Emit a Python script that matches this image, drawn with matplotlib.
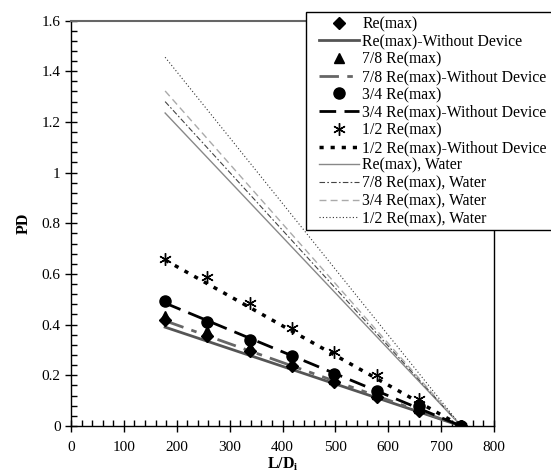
import matplotlib
matplotlib.use("Agg")
import matplotlib.pyplot as plt
from matplotlib.patches import Rectangle
from matplotlib.ticker import MultipleLocator

plt.rcParams['font.family'] = ['Liberation Serif', 'DejaVu Serif']
plt.rcParams['mathtext.fontset'] = 'stix'

# L/Di positions of the measured points
ld = [178, 258, 338, 418, 498, 578, 658, 738]
pd_re = [0.42, 0.355, 0.295, 0.235, 0.175, 0.115, 0.06, 0.0]
pd_78 = [0.435, 0.375, 0.31, 0.25, 0.185, 0.125, 0.07, 0.0]
pd_34 = [0.495, 0.41, 0.34, 0.275, 0.205, 0.14, 0.08, 0.0]
pd_12 = [0.66, 0.588, 0.487, 0.385, 0.293, 0.2, 0.108, 0.0]

# straight reference lines (start, end)
ld_line = [178, 738]
wo_re = [0.39, 0.0]
wo_78 = [0.415, 0.0]
wo_34 = [0.485, 0.0]
wo_12 = [0.655, 0.0]
water_re = [1.235, 0.0]
water_78 = [1.28, 0.0]
water_34 = [1.322, 0.0]
water_12 = [1.455, 0.0]

xticks = [0, 100, 200, 300, 400, 500, 600, 700, 800]
yticks = [0, 0.2, 0.4, 0.6, 0.8, 1.0, 1.2, 1.4, 1.6]
ytick_labels = ['0', '0.2', '0.4', '0.6', '0.8', '1', '1.2', '1.4', '1.6']

W, H = 551, 474
fig = plt.figure(figsize=(5.51, 4.74), dpi=100)
ax = fig.add_axes([71 / W, 1 - 426 / H, (494 - 71) / W, (426 - 20.5) / H])

ms = 7
ax.plot(ld, pd_re, linestyle='none', marker='D', color='black', markersize=6, zorder=4, label='Re(max)')
ax.plot(ld_line, wo_re, color='#555555', lw=2, label='Re(max)-Without Device')
ax.plot(ld, pd_78, linestyle='none', marker='^', color='black', markersize=ms, zorder=4, label='7/8 Re(max)')
ax.plot(ld_line, wo_78, color='#666666', lw=2, dashes=[7, 3, 2, 3, 2, 3], label='7/8 Re(max)-Without Device')
ax.plot(ld, pd_34, linestyle='none', marker='o', color='black', markersize=ms + 1, zorder=4, label='3/4 Re(max)')
ax.plot(ld_line, wo_34, color='black', lw=2, dashes=[6, 3], label='3/4 Re(max)-Without Device')
ax.plot(ld, pd_12, linestyle='none', marker=(6, 2, 0), color='black', markersize=9, mew=1,
        zorder=4, label='1/2 Re(max)')
ax.plot(ld_line, wo_12, color='black', lw=2.5, dashes=[1.2, 2], label='1/2 Re(max)-Without Device')
ax.plot(ld_line, water_re, color='#888888', lw=1, label='Re(max), Water')
ax.plot(ld_line, water_78, color='#444444', lw=0.8, dashes=[5, 2, 1.5, 2], label='7/8 Re(max), Water')
ax.plot(ld_line, water_34, color='#aaaaaa', lw=1, dashes=[5, 3], label='3/4 Re(max), Water')
ax.plot(ld_line, water_12, color='#333333', lw=0.8, dashes=[1, 2], label='1/2 Re(max), Water')

ax.set_xlim(0, 800)
ax.set_ylim(0, 1.6)
ax.set_xticks(xticks)
ax.set_yticks(yticks)
ax.set_yticklabels(ytick_labels)
ax.xaxis.set_minor_locator(MultipleLocator(20))
ax.yaxis.set_minor_locator(MultipleLocator(0.04))
ax.tick_params(which='major', direction='inout', length=9, width=1, labelsize=11, color='black', pad=3)
ax.tick_params(axis='x', which='major', pad=6)
ax.tick_params(which='minor', direction='in', length=4, width=1)
ax.tick_params(top=False, right=False, which='both')

for s in ['left', 'bottom', 'right']:
    ax.spines[s].set_color('black')
    ax.spines[s].set_linewidth(1)
ax.spines['top'].set_color('#666666')
ax.spines['top'].set_linewidth(1.5)

ax.set_ylabel('PD', fontweight='bold', fontsize=11.5, labelpad=7)
ax.set_xlabel(r'L/D$_{\mathbf{i}}$', fontweight='bold', fontsize=11.5, labelpad=2)

# legend box drawn by hand so the handles can sit further in from the border
box = Rectangle((306 / W, 1 - 230 / H), (W + 5 - 306) / W, (230 - 11.5) / H,
                transform=fig.transFigure, facecolor='white', edgecolor='black',
                lw=1, zorder=4.9, clip_on=False)
ax.add_patch(box)
leg = ax.legend(loc='upper left', bbox_to_anchor=(319 / W, 1 - 16 / H),
                bbox_transform=fig.transFigure, fontsize=11.3, frameon=False,
                labelspacing=0.11, handlelength=2.55, handletextpad=0.2,
                borderpad=0, borderaxespad=0)
leg.set_zorder(5)

fig.savefig('out.png', dpi=100)
